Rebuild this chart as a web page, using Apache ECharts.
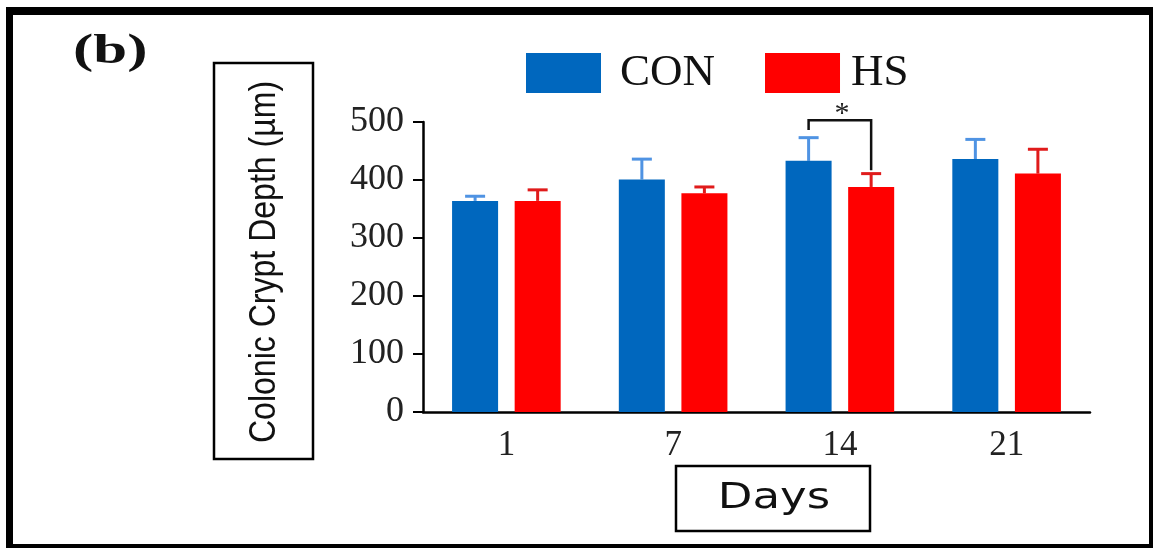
<!DOCTYPE html>
<html>
<head>
<meta charset="utf-8">
<script src="https://cdn.jsdelivr.net/npm/echarts@6/dist/echarts.min.js"></script>
<style>
html,body{margin:0;padding:0;background:#fff;}
#chart{width:1153px;height:548px;}
</style>
</head>
<body>
<div id="chart"></div>
<script>
// ---- data ----
const categories = ['1', '7', '14', '21'];
const seriesNames = ['CON', 'HS'];
const conMean = [364, 401, 433, 436];
const conSD = [8, 35, 40, 34];
const hsMean = [364, 377, 388, 411];
const hsSD = [19, 11, 23, 42];
const yTicks = [0, 100, 200, 300, 400, 500];
// significance annotation: category index, bracket top, left leg end, right leg end
const sigCategory = [2];
const sigTop = [503];
const sigLeftEnd = [486];
const sigRightEnd = [417];
const sigLabel = ['*'];
const panelLabel = '(b)';
const yTitle = 'Colonic Crypt Depth (µm)';
const xTitle = 'Days';

const BLUE = '#0067be', RED = '#ff0000';
const BLUE_ERR = '#4f93e3', RED_ERR = '#e01b1b';
const OFFSET = 0.1875, CAP = 0.12;
const legendTextGap = [14, 6];

function errRender(sign, color) {
  return function (params, api) {
    const c = api.value(0);
    const p0 = api.coord([c, api.value(1)]);
    const p1 = api.coord([c, api.value(2)]);
    const band = api.size([1, 0])[0];
    const x = p0[0] + sign * band * OFFSET;
    const half = band * CAP / 2;
    const style = { stroke: color, lineWidth: 3 };
    return {
      type: 'group',
      children: [
        { type: 'line', shape: { x1: x, y1: p0[1], x2: x, y2: p1[1] }, style },
        { type: 'line', shape: { x1: x - half, y1: p1[1], x2: x + half, y2: p1[1] }, style }
      ]
    };
  };
}

const chart = echarts.init(document.getElementById('chart'), null, { renderer: 'canvas' });
const option = {
  backgroundColor: '#ffffff',
  animation: false,
  legend: {
    data: seriesNames.map((n, i) => ({ name: n, textStyle: { padding: [6, 0, 0, legendTextGap[i]] } })),
    left: 521,
    top: 45,
    itemWidth: 75,
    itemHeight: 40,
    itemGap: 50,
    icon: 'rect',
    textStyle: {
      fontFamily: "'Liberation Serif', 'Times New Roman', serif",
      fontSize: 45,
      color: '#111',
      lineHeight: 40
    }
  },
  grid: { left: 423, right: 63, top: 122, bottom: 136, containLabel: false },
  xAxis: {
    type: 'category',
    data: categories,
    axisLine: { lineStyle: { color: '#000', width: 2.5 } },
    axisTick: { alignWithLabel: true, length: 5, lineStyle: { color: '#000', width: 3 } },
    axisLabel: {
      margin: 16,
      fontFamily: "'Liberation Serif', 'Times New Roman', serif",
      fontSize: 35,
      color: '#222'
    }
  },
  yAxis: {
    type: 'value',
    min: yTicks[0],
    max: yTicks[yTicks.length - 1],
    interval: 100,
    splitLine: { show: false },
    axisLine: { show: true, lineStyle: { color: '#000', width: 2.5 } },
    axisTick: { show: true, length: 10, lineStyle: { color: '#000', width: 2 } },
    axisLabel: {
      margin: 19,
      fontFamily: "'Liberation Serif', 'Times New Roman', serif",
      fontSize: 36,
      color: '#222'
    }
  },
  series: [
    {
      name: 'CON', type: 'bar', data: conMean, barWidth: '27.6%', barGap: '36%',
      itemStyle: { color: BLUE }, z: 3
    },
    {
      name: 'HS', type: 'bar', data: hsMean, barWidth: '27.6%', barGap: '36%',
      itemStyle: { color: RED }, z: 3
    },
    {
      name: 'CON err', type: 'custom', z: 2,
      data: conMean.map((m, i) => [i, m, m + conSD[i]]),
      encode: { x: 0, y: [1, 2] },
      renderItem: errRender(-1, BLUE_ERR), silent: true
    },
    {
      name: 'HS err', type: 'custom', z: 2,
      data: hsMean.map((m, i) => [i, m, m + hsSD[i]]),
      encode: { x: 0, y: [1, 2] },
      renderItem: errRender(1, RED_ERR), silent: true
    },
    {
      name: 'sig', type: 'custom', z: 4, clip: false, silent: true,
      data: sigCategory.map((c, i) => [c, sigTop[i], sigLeftEnd[i], sigRightEnd[i]]),
      encode: { x: 0, y: [1, 2, 3] },
      renderItem: function (params, api) {
        const c = api.value(0);
        const band = api.size([1, 0])[0];
        const top = api.coord([c, api.value(1)]);
        const l = api.coord([c, api.value(2)]);
        const r = api.coord([c, api.value(3)]);
        const xl = top[0] - band * OFFSET, xr = top[0] + band * OFFSET;
        const style = { stroke: '#111', lineWidth: 2.5, fill: null };
        return {
          type: 'group',
          children: [
            { type: 'polyline', shape: { points: [[xl, l[1]], [xl, top[1]], [xr, top[1]], [xr, r[1]]] }, style },
            { type: 'text', style: {
                text: sigLabel[params.dataIndex], x: top[0] + 2, y: top[1] + 9,
                align: 'center', verticalAlign: 'bottom',
                font: "30px 'Liberation Serif', serif", fill: '#222' } }
          ]
        };
      }
    }
  ],
  graphic: [
    // outer frame
    { type: 'rect', shape: { x: 6, y: 7, width: 1147, height: 8 }, style: { fill: '#000' }, silent: true },
    { type: 'rect', shape: { x: 6, y: 7, width: 7, height: 541 }, style: { fill: '#000' }, silent: true },
    { type: 'rect', shape: { x: 6, y: 544, width: 1147, height: 4 }, style: { fill: '#000' }, silent: true },
    { type: 'rect', shape: { x: 1149, y: 7, width: 4, height: 541 }, style: { fill: '#000' }, silent: true },
    // panel label
    { type: 'text', x: 73, y: 31, scaleX: 1.45,
      style: { text: panelLabel, font: "bold 42px 'Liberation Serif', serif", fill: '#111', align: 'left', verticalAlign: 'top' } },
    // y title box
    { type: 'rect', shape: { x: 214, y: 63, width: 99, height: 396 }, style: { fill: 'none', stroke: '#000', lineWidth: 2.5 }, silent: true },
    { type: 'text', x: 265, y: 262, rotation: Math.PI / 2, scaleX: 0.89,
      style: { text: yTitle, font: "36px 'Liberation Sans', sans-serif",
               align: 'center', verticalAlign: 'middle', fill: '#111' } },
    // x title box
    { type: 'rect', shape: { x: 676, y: 466, width: 194, height: 65 }, style: { fill: 'none', stroke: '#000', lineWidth: 2.5 }, silent: true },
    { type: 'text', x: 774, y: 499, scaleX: 1.25,
      style: { text: xTitle, font: "36px 'DejaVu Sans', sans-serif", align: 'center', verticalAlign: 'middle', fill: '#111' } }
  ]
};
chart.setOption(option);
</script>
</body>
</html>
